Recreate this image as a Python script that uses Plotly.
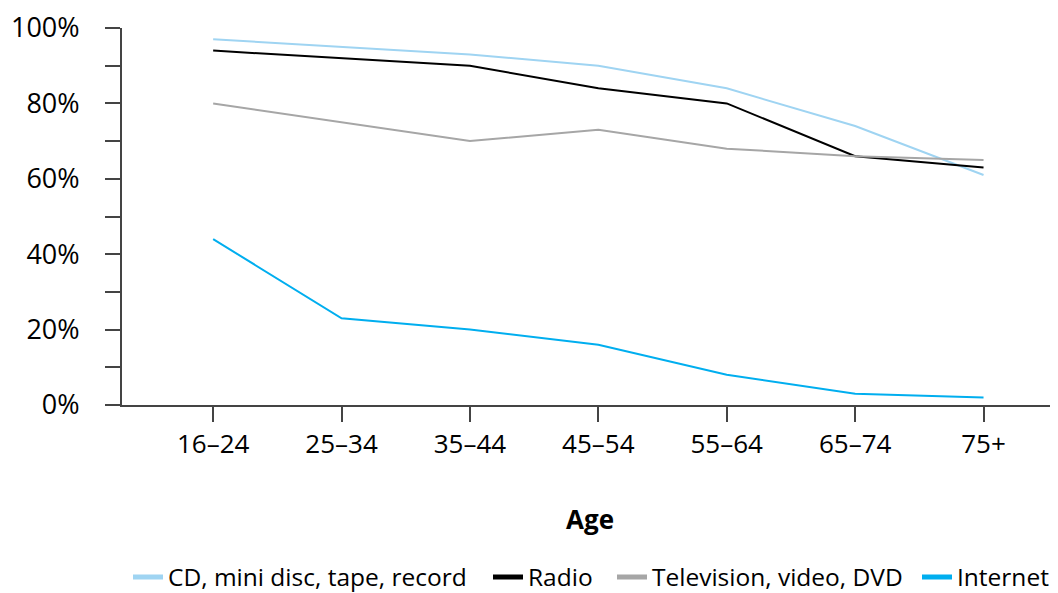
import plotly.graph_objects as go

ages = ["16–24", "25–34", "35–44", "45–54", "55–64", "65–74", "75+"]
cd = [97, 95, 93, 90, 84, 74, 61]
radio = [94, 92, 90, 84, 80, 66, 63]
tv = [80, 75, 70, 73, 68, 66, 65]
internet = [44, 23, 20, 16, 8, 3, 2]

names = ["CD, mini disc, tape, record", "Radio", "Television, video, DVD", "Internet"]
colors = ["#9fd4f2", "#000000", "#a6a6a6", "#00aeef"]
series = [cd, radio, tv, internet]

FONT = "Open Sans"
W, H = 1050, 585          # page body has an 8px default margin
OFF = 8
legend_ids = ["legend", "legend2", "legend3", "legend4"]
legend_sym_x = [133, 493, 617, 922]   # page-pixel start of each legend swatch
legend_y_px = 577

fig = go.Figure()
for name, vals, col, lid in zip(names, series, colors, legend_ids):
    fig.add_trace(go.Scatter(x=ages, y=vals, name=name, mode="lines",
                             line=dict(color=col, width=2), showlegend=False,
                             legendgroup=name))
    # legend-only entry with a thicker swatch
    fig.add_trace(go.Scatter(x=[ages[0]], y=[None], name=name, mode="lines",
                             line=dict(color=col, width=5), showlegend=True,
                             legendgroup=name, legend=lid, hoverinfo="skip"))

layout_legends = {}
for lid, sx in zip(legend_ids, legend_sym_x):
    layout_legends[lid] = dict(
        orientation="h", xref="container", yref="container",
        x=(sx - 5 - OFF) / W, xanchor="left",
        y=1 - (legend_y_px - OFF) / H, yanchor="middle",
        font=dict(size=24.5), itemwidth=30, bgcolor="rgba(0,0,0,0)",
    )

fig.update_layout(
    width=W, height=H,
    margin=dict(l=114, r=0, t=20, b=188, autoexpand=False),
    paper_bgcolor="white", plot_bgcolor="white",
    font=dict(family=FONT, size=26, color="#000"),
    showlegend=True,
    **layout_legends,
)
fig.update_xaxes(
    type="category", range=[-0.71, 6.58],
    showline=True, linecolor="#444", linewidth=2,
    ticks="outside", ticklen=15, tickwidth=2, tickcolor="#444",
    showgrid=False, zeroline=False, tickfont=dict(size=26),
)
fig.update_yaxes(
    range=[0, 100], tickvals=[0, 20, 40, 60, 80, 100],
    ticktext=["0%", "20%", "40%", "60%", "80%", "100%"],
    showline=True, linecolor="#444", linewidth=2,
    ticks="outside", ticklen=15, tickwidth=2, tickcolor="#444",
    ticklabelstandoff=20,
    minor=dict(tickvals=[10, 30, 50, 70, 90], ticks="outside", ticklen=15,
               tickwidth=2, tickcolor="#444"),
    showgrid=False, zeroline=False, tickfont=dict(size=27),
)
fig.add_annotation(text="<b>Age</b>", x=0.5, xref="paper", y=-0.302, yref="paper",
                   showarrow=False, font=dict(size=26), yanchor="middle")

fig.write_html("out.html")
